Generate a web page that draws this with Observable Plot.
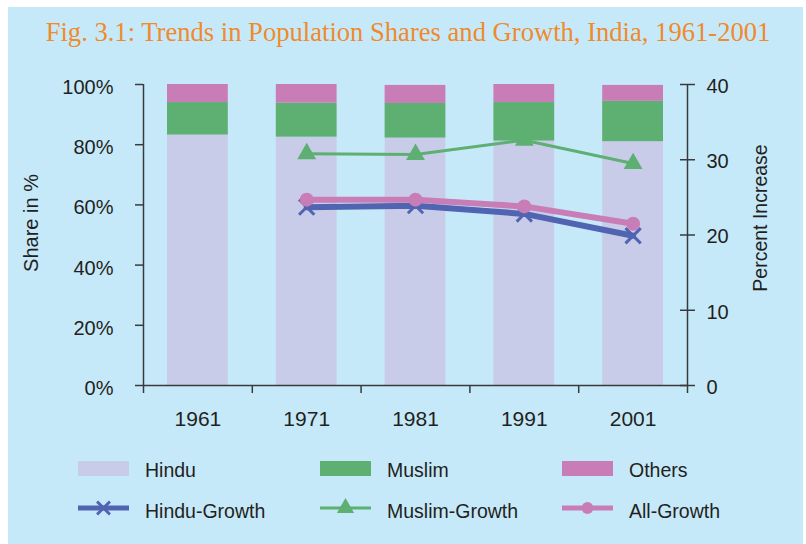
<!DOCTYPE html>
<html>
<head>
<meta charset="utf-8">
<script src="https://cdn.jsdelivr.net/npm/d3@7"></script>
<script src="https://cdn.jsdelivr.net/npm/@observablehq/plot@0.6"></script>
<style>
  html, body { margin: 0; padding: 0; background: #ffffff; }
  #page { position: relative; width: 806px; height: 544px; overflow: hidden; }
  #box { position: absolute; left: 8px; top: 7px; width: 795px; height: 537px; background: #c6e9fa; }
  #title { position: absolute; left: 8px; width: 800px; top: 19px; text-align: center;
           font-family: "Liberation Serif", "DejaVu Serif", serif; font-size: 26.6px; line-height: 26.6px;
           color: #f08a2b; white-space: nowrap; }
  #chart, #legend { position: absolute; left: 0; top: 0; }
</style>
</head>
<body>
<div id="page">
  <div id="box"></div>
  <div id="title">Fig. 3.1: Trends in Population Shares and Growth, India, 1961-2001</div>
  <div id="chart"></div>
  <svg id="legend" width="806" height="544"></svg>
</div>
<script>
// ---- data ----
const years = [1961, 1971, 1981, 1991, 2001];
const hinduShare  = [83.2, 82.5, 82.2, 81.2, 81.0];
const muslimShare = [10.8, 11.3, 11.5, 12.8, 13.4];
const othersShare = [6.0, 6.2, 6.0, 6.0, 5.3];

const growthYears  = [1971, 1981, 1991, 2001];
const hinduGrowth  = [23.7, 23.9, 22.8, 19.9];
const muslimGrowth = [30.8, 30.7, 32.6, 29.5];
const allGrowth    = [24.7, 24.7, 23.8, 21.5];

const leftTicks  = [0, 20, 40, 60, 80, 100];
const rightTicks = [0, 10, 20, 30, 40];
const groups = ["Hindu", "Muslim", "Others"];
const groupColors = ["#c8cce9", "#5db071", "#c97db6"];
const lineNames = ["Hindu-Growth", "Muslim-Growth", "All-Growth"];
const lineColors = ["#5164b1", "#5db071", "#c97db6"];

// ---- derived tables ----
const k = 100 / 40; // right axis (0-40) onto left scale (0-100)
const shareCols = [hinduShare, muslimShare, othersShare];
const stacked = [];
years.forEach((yr, i) => {
  let base = 0;
  groups.forEach((g, j) => {
    const v = shareCols[j][i];
    stacked.push({year: yr, group: g, y1: base, y2: base + v});
    base += v;
  });
});
const series = (vals) => growthYears.map((yr, i) => ({year: yr, v: vals[i]}));
const hg = series(hinduGrowth), mg = series(muslimGrowth), ag = series(allGrowth);
const edges = years.map(y => y - 5).concat([years[years.length - 1] + 5]);
const axisColor = "#3a3a3a";

const chart = Plot.plot({
  width: 806,
  height: 440,
  marginTop: 84,
  marginBottom: 55,
  marginLeft: 143,
  marginRight: 119,
  x: {type: "linear", domain: [edges[0], edges[edges.length - 1]], axis: null},
  y: {domain: [0, 100], axis: null},
  color: {domain: groups, range: groupColors},
  style: {background: "transparent", fontFamily: "'Liberation Sans', Arial, sans-serif", fontSize: "19px", color: "#231f20", overflow: "visible"},
  marks: [
    Plot.rect(stacked, {x1: d => d.year - 5, x2: d => d.year + 5, y1: "y1", y2: "y2", fill: "group", insetLeft: 24, insetRight: 24}),
    Plot.ruleY([0], {stroke: axisColor, strokeWidth: 1.5}),
    Plot.ruleX([edges[0], edges[edges.length - 1]], {stroke: axisColor, strokeWidth: 1.5}),
    // bottom ticks at category boundaries
    Plot.axisX({ticks: edges, tickSize: 8, tickFormat: () => "", label: null, stroke: axisColor, strokeWidth: 1.5}),
    Plot.axisX({ticks: years, tickSize: 0, tickPadding: 26, tickFormat: d => String(d), label: null, fontSize: 21, fill: "#231f20"}),
    // left axis
    Plot.axisY({ticks: leftTicks, tickSize: 8, tickFormat: () => "", label: null, stroke: axisColor, strokeWidth: 1.5}),
    Plot.axisY({ticks: leftTicks, tickSize: 0, tickPadding: 30, dy: 3, tickFormat: d => d + "%", label: null, fontSize: 20, fill: "#231f20"}),
    // right axis
    Plot.axisY({anchor: "right", ticks: rightTicks.map(v => v * k), tickSize: 15, dx: -8, tickFormat: () => "", label: null, stroke: axisColor, strokeWidth: 1.5}),
    Plot.axisY({anchor: "right", ticks: rightTicks.map(v => v * k), tickSize: 0, tickPadding: 19, dy: 2, tickFormat: d => String(d / k), label: null, fontSize: 20, fill: "#231f20"}),
    // growth lines
    Plot.line(hg, {x: "year", y: d => d.v * k, stroke: lineColors[0], strokeWidth: 6}),
    Plot.dot(hg, {x: "year", y: d => d.v * k, symbol: "times", r: 7, stroke: lineColors[0], strokeWidth: 3}),
    Plot.line(ag, {x: "year", y: d => d.v * k, stroke: lineColors[2], strokeWidth: 6}),
    Plot.dot(ag, {x: "year", y: d => d.v * k, r: 7, fill: lineColors[2], stroke: "none"}),
    Plot.line(mg, {x: "year", y: d => d.v * k, stroke: lineColors[1], strokeWidth: 3}),
    Plot.dot(mg, {x: "year", y: d => d.v * k, symbol: "triangle", r: 7, fill: lineColors[1], stroke: "none"}),
    // axis titles
    Plot.text(["Share in %"], {frameAnchor: "left", textAnchor: "middle", text: d => d, rotate: -90, dx: -112, dy: -12, fontSize: 20, fill: "#231f20"}),
    Plot.text(["Percent Increase"], {frameAnchor: "right", textAnchor: "middle", text: d => d, rotate: -90, dx: 73, dy: -17, fontSize: 19.5, fill: "#231f20"})
  ]
});
document.getElementById("chart").appendChild(chart);

// ---- legend ----
const lg = d3.select("#legend");
const colX = [78, 320, 562];
const swW = 51;
groups.forEach((g, i) => {
  lg.append("rect").attr("x", colX[i]).attr("y", 461).attr("width", swW).attr("height", 15).attr("fill", groupColors[i]);
  lg.append("text").attr("x", colX[i] + 67).attr("y", 477).text(g)
    .attr("font-family", "'Liberation Sans', Arial, sans-serif").attr("font-size", 19.5).attr("fill", "#231f20");
});
const lineWidths = [5, 3, 5];
const symbols = [d3.symbolTimes, d3.symbolTriangle, d3.symbolCircle];
lineNames.forEach((n, i) => {
  lg.append("line").attr("x1", colX[i]).attr("x2", colX[i] + swW).attr("y1", 508).attr("y2", 508)
    .attr("stroke", lineColors[i]).attr("stroke-width", lineWidths[i]);
  const sym = lg.append("path").attr("transform", `translate(${colX[i] + 25.5},${508})`);
  if (i === 0) sym.attr("d", d3.symbol(symbols[i], 110)()).attr("fill", "none").attr("stroke", lineColors[i]).attr("stroke-width", 3);
  else sym.attr("d", d3.symbol(symbols[i], i === 1 ? 130 : 110)()).attr("fill", lineColors[i]);
  lg.append("text").attr("x", colX[i] + 67).attr("y", 518).text(n)
    .attr("font-family", "'Liberation Sans', Arial, sans-serif").attr("font-size", 19.5).attr("fill", "#231f20");
});
</script>
</body>
</html>
